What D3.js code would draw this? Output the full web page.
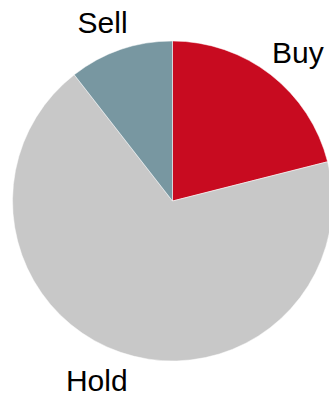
<!DOCTYPE html>
<html>
<head>
<meta charset="utf-8">
<script src="https://cdn.jsdelivr.net/npm/d3@7"></script>
<style>
  body { margin: 0; background: #fff; }
  text { font-family: "Liberation Sans", Arial, sans-serif; }
</style>
</head>
<body>
<div id="chart"></div>
<script>
// data
var categories = ["Buy", "Hold", "Sell"];
var values = [4, 13, 2];
var colors = ["#C80B20", "#C8C8C8", "#7897A1"];

var width = 329, height = 397;
var cx = 172.5, cy = 201, radius = 160;
var labelR = 189, labelPull = 16.5;

var svg = d3.select("#chart").append("svg")
    .attr("width", width)
    .attr("height", height)
  .append("g")
    .attr("transform", "translate(" + cx + "," + cy + ")");

var data = categories.map(function(c, i) { return {name: c, value: values[i], color: colors[i]}; });

var pie = d3.pie()
    .sort(null)
    .value(function(d) { return d.value; });

var arc = d3.arc().innerRadius(0).outerRadius(radius);
var labelArc = d3.arc().innerRadius(labelR).outerRadius(labelR);

var arcs = pie(data);

svg.selectAll("path")
    .data(arcs)
  .enter().append("path")
    .attr("d", arc)
    .style("fill", function(d) { return d.data.color; })
    .style("stroke", "#fff")
    .style("stroke-width", 0.5);

// labels: anchored on the outside edge, pulled a little toward the middle
function midAngle(d) { return (d.startAngle + d.endAngle) / 2; }
function rightSide(d) { return Math.sin(midAngle(d)) >= 0; }

svg.selectAll("text.lbl")
    .data(arcs)
  .enter().append("text")
    .attr("class", "lbl")
    .attr("transform", function(d) {
      var c = labelArc.centroid(d);
      var x = c[0] + (rightSide(d) ? -labelPull : labelPull);
      return "translate(" + x + "," + c[1] + ")";
    })
    .attr("text-anchor", function(d) { return rightSide(d) ? "start" : "end"; })
    .attr("dy", "0.36em")
    .style("font-size", "30px")
    .style("fill", "#000")
    .text(function(d) { return d.data.name; });
</script>
</body>
</html>
